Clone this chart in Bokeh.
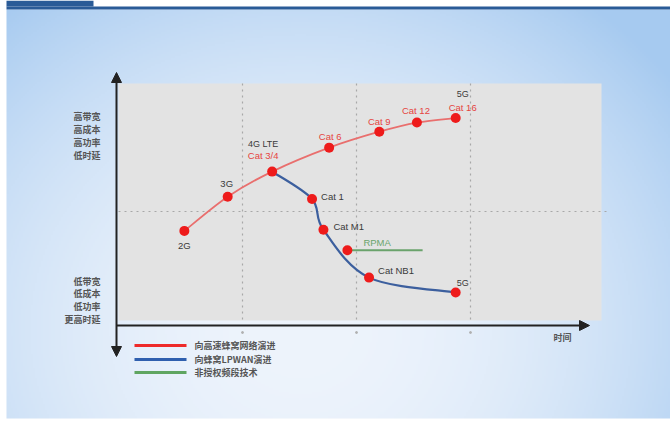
import numpy as np
from bokeh.plotting import figure
from bokeh.models import Range1d, Arrow, NormalHead, ColumnDataSource
from bokeh.core.properties import value
from bokeh.embed import file_html
from bokeh.resources import INLINE

# ---- data: time (grid units) vs. capability level (1 = middle line) ----
red_names = ["2G", "3G", "Cat 3/4", "Cat 6", "Cat 9", "Cat 12", "Cat 16"]
red_gen = ["", "", "4G LTE", "", "", "", "5G"]
red_time = [0.49, 0.87, 1.26, 1.76, 2.20, 2.53, 2.87]
red_level = [0.83, 1.13, 1.35, 1.56, 1.70, 1.78, 1.82]

blue_names = ["Cat 3/4", "Cat 1", "Cat M1", "Cat NB1", "5G"]
blue_time = [1.26, 1.61, 1.71, 2.11, 2.87]
blue_level = [1.35, 1.11, 0.84, 0.42, 0.29]

rpma_name = "RPMA"
rpma_time = [1.92, 2.58]
rpma_level = [0.66, 0.66]

grid_times = [1, 2, 3]
grid_levels = [1]

high_labels = ["高带宽", "高成本", "高功率", "低时延"]
low_labels = ["低带宽", "低成本", "低功率", "更高时延"]
legend_labels = ["向高速蜂窝网络演进", "向蜂窝LPWAN演进", "非授权频段技术"]
x_title = "时间"

# ---- layout helpers: page pixels -> data units ----
W, H = 670, 421
U = 114.0


def tx(px):
    return (px - 128.0) / U


def ty(py):
    return (325.0 - py) / U


CJK = value("Noto Sans CJK SC")
LAT = value("Liberation Sans")
RED_TXT = "#e5453f"
DARK_TXT = "#3a3a3a"

p = figure(width=W, height=H, output_backend="svg", toolbar_location=None,
           x_range=Range1d(tx(0), tx(W)), y_range=Range1d(ty(H), ty(0)),
           x_axis_location=None, y_axis_location=None, min_border=0)
p.grid.visible = False
p.outline_line_color = None
p.background_fill_color = "white"
p.border_fill_color = "white"

# ---- soft blue page background ----
gw, gh = 332, 205
gx = np.linspace(6, 670, gw)
gy = np.linspace(418, 9, gh)
GX, GY = np.meshgrid(gx, gy)
t = np.clip(((GX - 300) / 470) ** 2 + ((GY - 330) / 420) ** 2, 0, 1)
light = np.array([238, 244, 252], dtype=float)
edge = np.array([166, 202, 240], dtype=float)
rgb = light + (edge - light) * t[..., None]
img = np.empty((gh, gw), dtype=np.uint32)
view = img.view(dtype=np.uint8).reshape((gh, gw, 4))
view[..., 0] = rgb[..., 0]
view[..., 1] = rgb[..., 1]
view[..., 2] = rgb[..., 2]
view[..., 3] = 255
p.image_rgba(image=[img], x=tx(6), y=ty(418), dw=(670 - 6) / U, dh=(418 - 9) / U)

# header bar
p.quad(left=tx(6), right=tx(670), top=ty(6), bottom=ty(9), fill_color="#2a5b97", line_color=None)
p.quad(left=tx(6), right=tx(93), top=ty(0), bottom=ty(6), fill_color="#2a5b97", line_color=None)

# grey plotting panel
p.quad(left=tx(118), right=tx(601), top=ty(83), bottom=ty(320), fill_color="#e3e3e3", line_color=None)

# dotted reference grid
p.segment(x0=grid_times, y0=[ty(83)] * 3, x1=grid_times, y1=[ty(321)] * 3,
          line_color="#a8a8a8", line_width=1.2, line_dash="2 4")
p.segment(x0=[tx(118)], y0=grid_levels, x1=[tx(606)], y1=grid_levels,
          line_color="#a8a8a8", line_width=1.2, line_dash="2 4")
p.scatter(x=grid_times, y=[ty(332)] * 3, size=2, color="#b0b0b0")

# axes with arrow heads
p.add_layout(Arrow(end=NormalHead(size=10, fill_color="#222222", line_color="#222222"),
                   x_start=tx(116), y_start=ty(325), x_end=tx(589), y_end=ty(325),
                   line_width=2, line_color="#222222"))
p.add_layout(Arrow(start=NormalHead(size=10, fill_color="#222222", line_color="#222222"),
                   end=NormalHead(size=10, fill_color="#222222", line_color="#222222"),
                   x_start=tx(116), y_start=ty(356), x_end=tx(116), y_end=ty(72),
                   line_width=2, line_color="#222222"))


# ---- smooth curves (Catmull-Rom expressed as cubic Beziers) ----
def bezier_segments(xs, ys):
    pts = np.column_stack([xs, ys]).astype(float)
    ext = np.vstack([pts[0], pts, pts[-1]])
    seg = dict(x0=[], y0=[], x1=[], y1=[], cx0=[], cy0=[], cx1=[], cy1=[])
    for i in range(1, len(ext) - 2):
        p0, p1, p2, p3 = ext[i - 1], ext[i], ext[i + 1], ext[i + 2]
        c1 = p1 + (p2 - p0) / 6.0
        c2 = p2 - (p3 - p1) / 6.0
        seg["x0"].append(p1[0]); seg["y0"].append(p1[1])
        seg["x1"].append(p2[0]); seg["y1"].append(p2[1])
        seg["cx0"].append(c1[0]); seg["cy0"].append(c1[1])
        seg["cx1"].append(c2[0]); seg["cy1"].append(c2[1])
    return ColumnDataSource(seg)


p.bezier(x0="x0", y0="y0", x1="x1", y1="y1", cx0="cx0", cy0="cy0", cx1="cx1", cy1="cy1",
         source=bezier_segments(red_time, red_level), line_color="#e96f6e", line_width=1.8)
p.bezier(x0="x0", y0="y0", x1="x1", y1="y1", cx0="cx0", cy0="cy0", cx1="cx1", cy1="cy1",
         source=bezier_segments(blue_time, blue_level), line_color="#3c5f9e", line_width=2.2)
p.line(x=rpma_time, y=rpma_level, line_color="#6aa36c", line_width=1.8)

# points
p.scatter(x=red_time, y=red_level, size=10, fill_color="#ee1b1b", line_color=None)
p.scatter(x=blue_time[1:], y=blue_level[1:], size=10, fill_color="#ee1b1b", line_color=None)
p.scatter(x=rpma_time[:1], y=rpma_level[:1], size=10, fill_color="#ee1b1b", line_color=None)

# ---- point labels ----
red_src = ColumnDataSource(dict(
    x=red_time, y=red_level, name=red_names, gen=red_gen,
    color=[DARK_TXT, DARK_TXT] + [RED_TXT] * 5,
    dx=[0, -1, -9, 1, 0, -1, 7], dy=[15, -13, -16, -11, -10, -12, -11],
    gdx=[0, 0, -9, 0, 0, 0, 7], gdy=[0, 0, -28, 0, 0, 0, -24],
))
p.text(x="x", y="y", text="name", source=red_src, text_color="color",
       x_offset="dx", y_offset="dy", text_align="center", text_baseline="middle",
       text_font=LAT, text_font_size="9.5px")
p.text(x="x", y="y", text="gen", source=red_src, text_color=DARK_TXT,
       x_offset="gdx", y_offset="gdy", text_align="center", text_baseline="middle",
       text_font=LAT, text_font_size="9px")

blue_left = ColumnDataSource(dict(x=blue_time[1:4], y=blue_level[1:4], name=blue_names[1:4],
                                  dx=[9, 10, 9], dy=[-2, -3, -7]))
p.text(x="x", y="y", text="name", source=blue_left, text_color=DARK_TXT,
       x_offset="dx", y_offset="dy", text_align="left", text_baseline="middle",
       text_font=LAT, text_font_size="9.5px")
p.text(x=blue_time[4:], y=blue_level[4:], text=blue_names[4:], text_color=DARK_TXT,
       x_offset=7, y_offset=-9, text_align="center", text_baseline="middle",
       text_font=LAT, text_font_size="9px")
p.text(x=rpma_time[:1], y=rpma_level[:1], text=[rpma_name], text_color="#6aa36c",
       x_offset=16, y_offset=-8, text_align="left", text_baseline="middle",
       text_font=LAT, text_font_size="9.5px")

# ---- y-axis descriptors ----
p.text(x=[tx(100)] * 4, y=[ty(v) for v in (116, 129, 142, 155)], text=high_labels,
       text_color="#555555", text_align="right", text_baseline="middle",
       text_font=CJK, text_font_size="9px", text_font_style="bold")
p.text(x=[tx(100)] * 4, y=[ty(v) for v in (281, 293, 306, 319)], text=low_labels,
       text_color="#555555", text_align="right", text_baseline="middle",
       text_font=CJK, text_font_size="9px", text_font_style="bold")
p.text(x=[tx(553)], y=[ty(337)], text=[x_title], text_color="#555555",
       text_align="left", text_baseline="middle", text_font=CJK, text_font_size="9px",
       text_font_style="bold")

# ---- legend ----
leg_y = [ty(v) for v in (345, 359, 372)]
p.segment(x0=[tx(134)] * 3, y0=leg_y, x1=[tx(186)] * 3, y1=leg_y,
          line_color=["#ee2a2a", "#2f5fae", "#5fa561"], line_width=3)
p.text(x=[tx(194)] * 3, y=leg_y, text=legend_labels, text_color="#555555",
       text_align="left", text_baseline="middle", text_font=CJK, text_font_size="9px",
       text_font_style="bold")

open("out.html", "w").write(file_html(p, INLINE))
